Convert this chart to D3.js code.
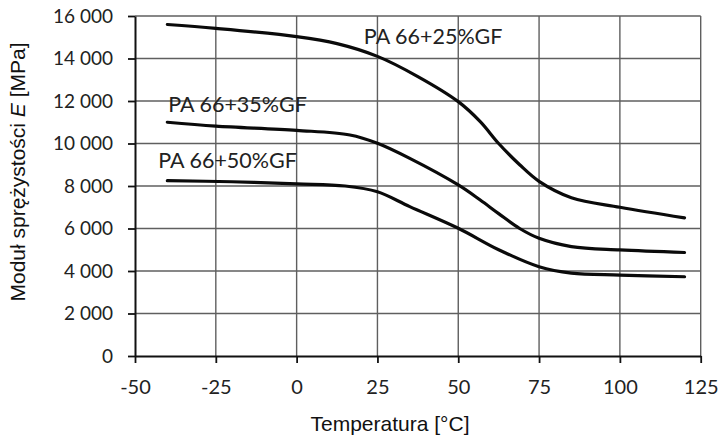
<!DOCTYPE html>
<html>
<head>
<meta charset="utf-8">
<script src="https://cdn.jsdelivr.net/npm/d3@7"></script>
<style>
  html, body { margin: 0; padding: 0; background: #fff; }
  svg { display: block; }
</style>
</head>
<body>
<svg id="chart" width="720" height="437"></svg>
<script>
// Temperature (°C) and elastic modulus (MPa) for each glass-fibre grade
const temp25 = [-40, -25, 0, 12.5, 25, 37.5, 50, 56.8, 62.5, 69, 75, 85, 100, 120];
const modulus25 = [15600, 15420, 15030, 14700, 14100, 13150, 11970, 11030, 10000, 9000, 8220, 7450, 7000, 6500];

const temp35 = [-40, -25, 0, 16.5, 25, 35, 50, 56.8, 62.5, 69, 75, 85, 100, 120];
const modulus35 = [11000, 10820, 10620, 10400, 10010, 9300, 8050, 7340, 6700, 6000, 5540, 5150, 4990, 4870];

const temp50 = [-40, -20, 0, 15, 25, 35, 50, 62.5, 75, 85, 100, 120];
const modulus50 = [8250, 8200, 8100, 8000, 7730, 7030, 6010, 5000, 4200, 3900, 3810, 3730];

const seriesNames = ["PA 66+25%GF", "PA 66+35%GF", "PA 66+50%GF"];
// Label anchors (left/baseline) in data units
const labelTemp = [20.8, -39.7, -42.8];
const labelModulus = [14680, 11500, 8830];

const xTicks = [-50, -25, 0, 25, 50, 75, 100, 125];
const yTicks = [0, 2000, 4000, 6000, 8000, 10000, 12000, 14000, 16000];

const svg = d3.select("#chart");
const plotLeft = 135, plotRight = 700.7, plotTop = 16, plotBottom = 356;

const x = d3.scaleLinear().domain([-50, 125]).range([plotLeft, plotRight]);
const y = d3.scaleLinear().domain([0, 16000]).range([plotBottom, plotTop]);

const locale = d3.formatLocale({ decimal: ",", thousands: " ", grouping: [3], currency: ["", ""], minus: "-" });
const yFmt = locale.format(",");
const xFmt = locale.format("d");

// Grid
const grid = svg.append("g");
grid.selectAll("line.h").data(yTicks.filter(d => d > 0)).join("line")
  .attr("x1", plotLeft).attr("x2", plotRight)
  .attr("y1", d => y(d)).attr("y2", d => y(d))
  .attr("stroke", "#5f5f5f").attr("stroke-width", 1.4);
grid.selectAll("line.v").data(xTicks.filter(d => d > -50)).join("line")
  .attr("x1", d => x(d)).attr("x2", d => x(d))
  .attr("y1", plotTop).attr("y2", plotBottom)
  .attr("stroke", "#5f5f5f").attr("stroke-width", 1.4);

// Axes
const yAxis = svg.append("g").attr("transform", `translate(${plotLeft},0)`)
  .call(d3.axisLeft(y).tickValues(yTicks).tickFormat(yFmt).tickSizeInner(7).tickSizeOuter(0).tickPadding(15));
const xAxis = svg.append("g").attr("transform", `translate(0,${plotBottom})`)
  .call(d3.axisBottom(x).tickValues(xTicks).tickFormat(xFmt).tickSizeInner(7).tickSizeOuter(0).tickPadding(17));

[yAxis, xAxis].forEach(a => {
  a.select(".domain").attr("stroke", "#111").attr("stroke-width", 2);
  a.selectAll(".tick line").attr("stroke", "#111").attr("stroke-width", 1.8);
  a.selectAll(".tick text").attr("fill", "#222").attr("font-family", "Lato, 'Open Sans', sans-serif");
});
yAxis.selectAll(".tick text").attr("font-size", 19);
xAxis.selectAll(".tick text").attr("font-size", 20);

// Curves
const line = d3.line().x(d => x(d[0])).y(d => y(d[1])).curve(d3.curveCatmullRom.alpha(0.5));
const series = [
  d3.zip(temp25, modulus25),
  d3.zip(temp35, modulus35),
  d3.zip(temp50, modulus50)
];
svg.append("g").selectAll("path").data(series).join("path")
  .attr("d", line)
  .attr("fill", "none")
  .attr("stroke", "#0a0a0a")
  .attr("stroke-width", 3.2)
  .attr("stroke-linecap", "round");

// Series labels
svg.append("g").selectAll("text").data(seriesNames).join("text")
  .attr("x", (d, i) => x(labelTemp[i]))
  .attr("y", (d, i) => y(labelModulus[i]))
  .attr("font-family", "Lato, 'Open Sans', sans-serif")
  .attr("font-size", 21.5)
  .attr("fill", "#222")
  .text(d => d);

// Axis titles
svg.append("text")
  .attr("x", 390).attr("y", 430.5)
  .attr("text-anchor", "middle")
  .attr("font-family", "'Liberation Sans', Arial, sans-serif")
  .attr("font-size", 21)
  .attr("fill", "#111")
  .text("Temperatura [°C]");

const yt = svg.append("text")
  .attr("transform", "translate(25,172) rotate(-90)")
  .attr("text-anchor", "middle")
  .attr("font-family", "'Liberation Sans', Arial, sans-serif")
  .attr("font-size", 21)
  .attr("fill", "#111");
yt.append("tspan").text("Moduł sprężystości ");
yt.append("tspan").attr("font-style", "italic").text("E");
yt.append("tspan").text(" [MPa]");
</script>
</body>
</html>
